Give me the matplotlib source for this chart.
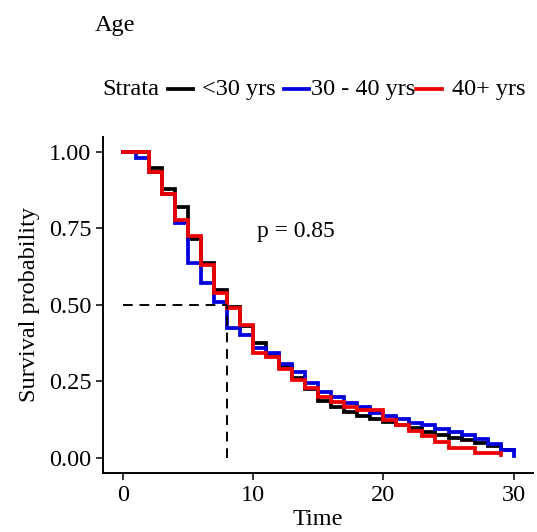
import matplotlib
matplotlib.use("Agg")
import matplotlib.pyplot as plt
from matplotlib.lines import Line2D

plt.rcParams['font.family'] = ['Liberation Serif', 'DejaVu Serif']

# Kaplan-Meier curves (time, survival)
labels = ['<30 yrs', '30 - 40 yrs', '40+ yrs']
colors = ['#000000', '#0000DD', '#EE0000']

time_lt30 = [0, 2, 3, 4, 5, 6, 7, 8, 9, 10, 11, 12, 13, 14, 15, 16, 17, 18, 19, 20,
             21, 22, 23, 24, 25, 26, 27, 28, 29, 30]
surv_lt30 = [1.00, 0.947, 0.88, 0.82, 0.715, 0.638, 0.548, 0.494, 0.432, 0.374,
             0.336, 0.30, 0.262, 0.225, 0.184, 0.167, 0.15, 0.135, 0.125, 0.118,
             0.108, 0.098, 0.085, 0.075, 0.065, 0.058, 0.048, 0.038, 0.025, 0.025]

time_30_40 = [0, 1, 2, 3, 4, 5, 6, 7, 8, 9, 10, 11, 12, 13, 14, 15, 16, 17, 18, 19,
              20, 21, 22, 23, 24, 25, 26, 27, 28, 29, 30]
surv_30_40 = [1.00, 0.98, 0.935, 0.862, 0.767, 0.638, 0.57, 0.51, 0.425, 0.40,
              0.36, 0.343, 0.305, 0.28, 0.245, 0.216, 0.20, 0.18, 0.165, 0.147,
              0.135, 0.125, 0.115, 0.108, 0.095, 0.085, 0.075, 0.062, 0.045, 0.026, 0.005]

time_40p = [0, 2, 3, 4, 5, 6, 7, 8, 9, 10, 11, 12, 13, 14, 15, 16, 17, 18, 19, 20,
            21, 22, 23, 24, 25, 26, 27, 28, 29]
surv_40p = [1.00, 0.933, 0.864, 0.777, 0.725, 0.63, 0.54, 0.49, 0.434, 0.343,
            0.33, 0.29, 0.255, 0.228, 0.20, 0.182, 0.167, 0.157, 0.157, 0.124,
            0.108, 0.086, 0.07, 0.05, 0.033, 0.033, 0.016, 0.016, 0.01]

median_time = 8
p_text = 'p = 0.85'

fig = plt.figure(figsize=(5.37, 5.32), dpi=100)
ax = fig.add_axes([0.192, 0.111, 0.801, 0.632])

curves = [(time_lt30, surv_lt30), (time_30_40, surv_30_40), (time_40p, surv_40p)]
for (t, s), c in zip(curves, colors):
    ax.step(t, s, where='post', color=c, lw=2.7, solid_joinstyle='miter')

# median line
ax.plot([0, median_time], [0.5, 0.5], color='black', lw=1.4, ls=(0, (5, 3.5)))
ax.plot([median_time, median_time], [0, 0.5], color='black', lw=1.4, ls=(0, (5, 3.5)))

ax.text(10.3, 0.74, p_text, fontsize=17, va='center', ha='left')

ax.set_xlim(-1.5, 31.5)
ax.set_ylim(-0.05, 1.05)
ax.set_xticks([0, 10, 20, 30])
ax.set_yticks([0, 0.25, 0.5, 0.75, 1.0])
ax.set_yticklabels(['0.00', '0.25', '0.50', '0.75', '1.00'])
ax.tick_params(labelsize=17.5, length=5, width=1.1, color='black')
for side in ['top', 'right']:
    ax.spines[side].set_visible(False)
for side in ['left', 'bottom']:
    ax.spines[side].set_linewidth(1.4)
ax.set_xlabel('Time', fontsize=17.5, labelpad=2)
ax.set_ylabel('Survival probability', fontsize=17.5, labelpad=6)

# title and legend at the top
fig.text(95 / 537, 1 - 25 / 532, 'Age', fontsize=17.5, va='center', ha='left')
ly = 1 - 89 / 532
fig.text(102 / 537, ly, 'Strata', fontsize=17.5, va='center', ha='left')
key_x = [(168, 193), (284, 309), (416, 442)]
text_x = [202, 311, 452]
for (x0, x1), tx, c, lab in zip(key_x, text_x, colors, labels):
    fig.add_artist(Line2D([x0 / 537, x1 / 537], [ly, ly], color=c, lw=2.7,
                          transform=fig.transFigure))
    fig.text(tx / 537, ly, lab, fontsize=17.5, va='center', ha='left')

fig.savefig('out.png', dpi=100)
